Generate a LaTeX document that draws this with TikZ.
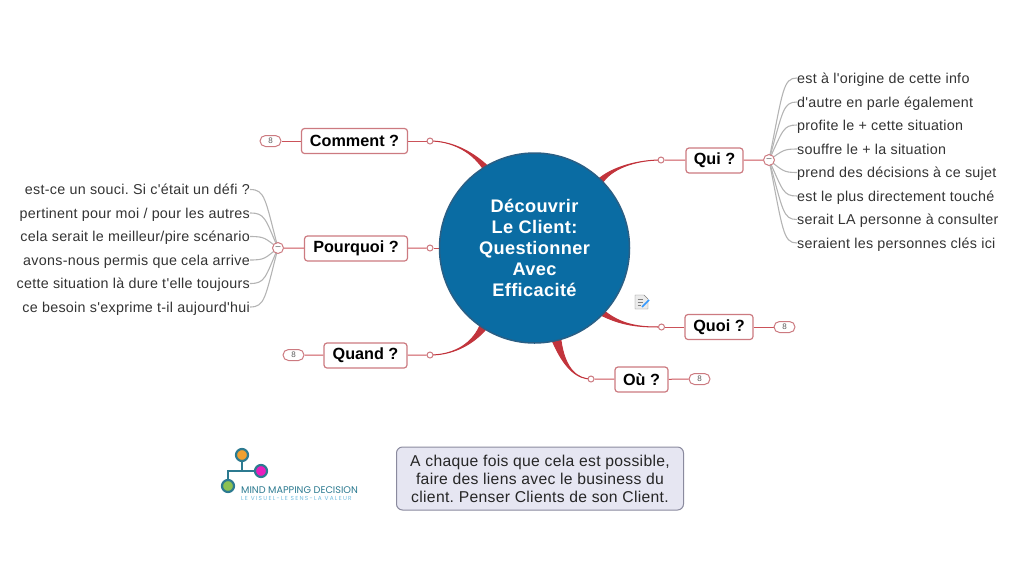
\documentclass[tikz,border=0pt]{standalone}
\usepackage{fontspec}
\setmainfont{Liberation Sans}
\newfontfamily\logofont{Poppins}
\newfontfamily\logothin[LetterSpace=22]{Poppins}
\newfontfamily\leaffont[LetterSpace=2]{Liberation Sans}
\usetikzlibrary{calc}
\usetikzlibrary{backgrounds}
\definecolor{hubblue}{HTML}{0A6CA3}
\definecolor{hubedge}{HTML}{2A5F85}
\definecolor{linkred}{HTML}{C2343C}
\definecolor{boxrose}{HTML}{CC7A80}
\definecolor{leafgrey}{HTML}{B4B4B4}
\definecolor{leaftext}{HTML}{333333}
\definecolor{noteback}{HTML}{E6E6F2}
\definecolor{noteedge}{HTML}{8A8A9E}
\definecolor{logoteal}{HTML}{2C7A90}
\definecolor{logosky}{HTML}{6FBBDD}
\newcommand{\taperlink}[5]% hub angles, two controls, dot
{\filldraw[linkred, line width=1pt] (hub.#1) .. controls #3 and #4 .. (#5.center) .. controls #4 and #3 .. (hub.#2) -- cycle;
}
\newcommand{\leaflink}[3]% fold, trunk, leaf
{\draw[leafgrey, line width=1.1pt] (#1.center) .. controls ($(#2)!.85!(#2 |- #3)$) and (#2 |- #3) .. (#3);
}
\tikzset{
	topic/.style={draw=boxrose, fill=white, line width=1.2pt, rounded corners=3pt, inner sep=0pt, minimum height=25pt, font=\fontsize{16.2}{19}\selectfont\bfseries},
	dot/.style={circle, draw=boxrose, fill=white, line width=1pt, inner sep=0pt, minimum size=6pt},
	pill/.style={draw=boxrose, fill=white, line width=1pt, rounded corners=5.5pt, inner sep=0pt, minimum width=21pt, minimum height=11pt, text=black!65, font=\fontsize{8}{9}\selectfont},
	fold/.style={circle, draw=boxrose, fill=white, line width=1pt, inner sep=0pt, minimum size=11pt, text=black!70, font=\fontsize{9}{9}\selectfont},
	leafright/.style={anchor=west, inner sep=0pt, text height=13pt, text depth=3pt, text=leaftext, font=\leaffont\fontsize{14.3}{16}\selectfont},
	leafleft/.style={anchor=east, inner sep=0pt, text height=13pt, text depth=3pt, text=leaftext, font=\leaffont\fontsize{14.3}{16}\selectfont},
	thin link/.style={linkred!85!white, line width=1pt},
	logoball/.style={circle, draw=logoteal, line width=2.2pt, minimum size=12pt, inner sep=0pt}
}

\begin{document}
\frenchspacing
\begin{tikzpicture}[x=1pt,y=-1pt]
	\useasboundingbox (0,0) rectangle (1028,574);
	\node[circle, draw=hubedge, fill=hubblue, line width=1.5pt, minimum size=190pt, inner sep=0pt, align=center, text=white, font=\leaffont\fontsize{18.2}{21.1}\selectfont\bfseries] (hub) at (534.5,248) {D\'ecouvrir\\Le Client:\\Questionner\\Avec\\Efficacit\'e};
	\node[topic, minimum width=106pt] (comment) at (354.5,141) {Comment ?};
	\node[topic, minimum width=103pt] (pourquoi) at (356,248.5) {Pourquoi ?};
	\node[topic, minimum width=83pt] (quand) at (365.5,355.5) {Quand ?};
	\node[topic, minimum width=57pt] (qui) at (714.5,160.5) {Qui ?};
	\node[topic, minimum width=68pt] (quoi) at (719,327) {Quoi ?};
	\node[topic, minimum width=53pt] (ou) at (641.5,379.5) {O\`u ?};
	\node[dot] (dotcomment) at (430,141) {};
	\node[dot] (dotpourquoi) at (430,248) {};
	\node[dot] (dotquand) at (430,355) {};
	\node[dot] (dotqui) at (661,160) {};
	\node[dot] (dotquoi) at (661.5,327) {};
	\node[dot] (dotou) at (591,379) {};
	\node[pill] (pillcomment) at (270.5,141) {8};
	\node[pill] (pillquand) at (293.5,355) {8};
	\node[pill] (pillquoi) at (784.5,327) {8};
	\node[pill] (pillou) at (699.5,379) {8};
	\node[fold] (foldqui) at (769,160) {--};
	\node[fold] (foldpourquoi) at (278,248) {--};
	\coordinate (trunkqui) at (783,160);
	\coordinate (trunkpourquoi) at (265,248);
	\node[leafright] (qa) at (797,78) {est \`a l'origine de cette info};
	\node[leafright] (qb) at (797,102) {d'autre en parle \'egalement};
	\node[leafright] (qc) at (797,125) {profite le + cette situation};
	\node[leafright] (qd) at (797,149) {souffre le + la situation};
	\node[leafright] (qe) at (797,172.5) {prend des d\'ecisions \`a ce sujet};
	\node[leafright] (qf) at (797,196) {est le plus directement touch\'e};
	\node[leafright] (qg) at (797,219.5) {serait LA personne \`a consulter};
	\node[leafright] (qh) at (797,243) {seraient les personnes cl\'es ici};
	\node[leafleft] (pa) at (250,189.5) {est-ce un souci. Si c'\'etait un d\'efi ?};
	\node[leafleft] (pb) at (250,213) {pertinent pour moi / pour les autres};
	\node[leafleft] (pc) at (250,236.5) {cela serait le meilleur/pire sc\'enario};
	\node[leafleft] (pd) at (250,260) {avons-nous permis que cela arrive};
	\node[leafleft] (pe) at (250,283.5) {cette situation l\`a dure t'elle toujours};
	\node[leafleft] (pf) at (250,307) {ce besoin s'exprime t-il aujourd'hui};
	\node[draw=noteedge, fill=noteback, line width=1pt, rounded corners=6pt, minimum width=287pt, minimum height=63pt, inner sep=0pt, align=center, text=black!85, font=\leaffont\fontsize{15.7}{18}\selectfont] (note) at (540,478.5) {A chaque fois que cela est possible,\\faire des liens avec le business du\\client. Penser Clients de son Client.};
	% logo
	\node[logoball, fill={rgb,255:red,240;green,160;blue,48}] (logoa) at (242,455) {};
	\node[logoball, fill={rgb,255:red,233;green,30;blue,190}] (logob) at (261,471) {};
	\node[logoball, fill={rgb,255:red,140;green,193;blue,82}] (logoc) at (228,486) {};
	\coordinate (logomid) at (228,471);
	\node[anchor=west, inner sep=0pt, text=logoteal, font=\logofont\fontsize{9.7}{10}\selectfont] (logoname) at (241,490) {MIND MAPPING DECISION};
	\node[anchor=west, inner sep=0pt, text=logosky, font=\logothin\fontsize{5.8}{6}\selectfont] (logotag) at (241,498.5) {LE VISUEL-LE SENS-LA VALEUR};
	% note icon
	\fill[black!8] (635,295) -- (644,295) -- (648,299) -- (648,309) -- (635,309) -- cycle;
	\draw[black!50] (635,295) -- (644,295) -- (648,299) -- (648,309) -- (635,309) -- cycle;
	\draw[black!50] (637.5,299) -- (643,299) (637.5,302) -- (643,302) (637.5,305) -- (641,305);
	\draw[blue!50!cyan!80!white, line width=1.6pt] (642,307) -- (649,300);
	\begin{scope}[on background layer]
		\taperlink{123.5}{120.5}{(470,150)}{(450,141)}{dotcomment}
		\taperlink{239.5}{235.5}{(470,347)}{(450,355)}{dotquand}
		\taperlink{47.5}{44.5}{(615,166)}{(640,160)}{dotqui}
		\taperlink{318.5}{315.5}{(625,327)}{(645,327)}{dotquoi}
		\taperlink{286.5}{281.5}{(565,370)}{(578,379)}{dotou}
		\draw[thin link] (hub) -- (dotpourquoi);
		\draw[thin link] (dotcomment) -- (comment);
		\draw[thin link] (dotpourquoi) -- (pourquoi);
		\draw[thin link] (dotquand) -- (quand);
		\draw[thin link] (dotqui) -- (qui);
		\draw[thin link] (dotquoi) -- (quoi);
		\draw[thin link] (dotou) -- (ou);
		\draw[thin link] (comment) -- (pillcomment);
		\draw[thin link] (quand) -- (pillquand);
		\draw[thin link] (quoi) -- (pillquoi);
		\draw[thin link] (ou) -- (pillou);
		\draw[thin link] (qui) -- (foldqui);
		\draw[thin link] (pourquoi) -- (foldpourquoi);
		\leaflink{foldqui}{trunkqui}{qa}
		\leaflink{foldqui}{trunkqui}{qb}
		\leaflink{foldqui}{trunkqui}{qc}
		\leaflink{foldqui}{trunkqui}{qd}
		\leaflink{foldqui}{trunkqui}{qe}
		\leaflink{foldqui}{trunkqui}{qf}
		\leaflink{foldqui}{trunkqui}{qg}
		\leaflink{foldqui}{trunkqui}{qh}
		\leaflink{foldpourquoi}{trunkpourquoi}{pa}
		\leaflink{foldpourquoi}{trunkpourquoi}{pb}
		\leaflink{foldpourquoi}{trunkpourquoi}{pc}
		\leaflink{foldpourquoi}{trunkpourquoi}{pd}
		\leaflink{foldpourquoi}{trunkpourquoi}{pe}
		\leaflink{foldpourquoi}{trunkpourquoi}{pf}
		\draw[logoteal, line width=2pt] (logoa) -- (logoa |- logomid);
		\draw[logoteal, line width=2pt] (logoc) -- (logomid) -- (logob);
	\end{scope}
\end{tikzpicture}
\end{document}
